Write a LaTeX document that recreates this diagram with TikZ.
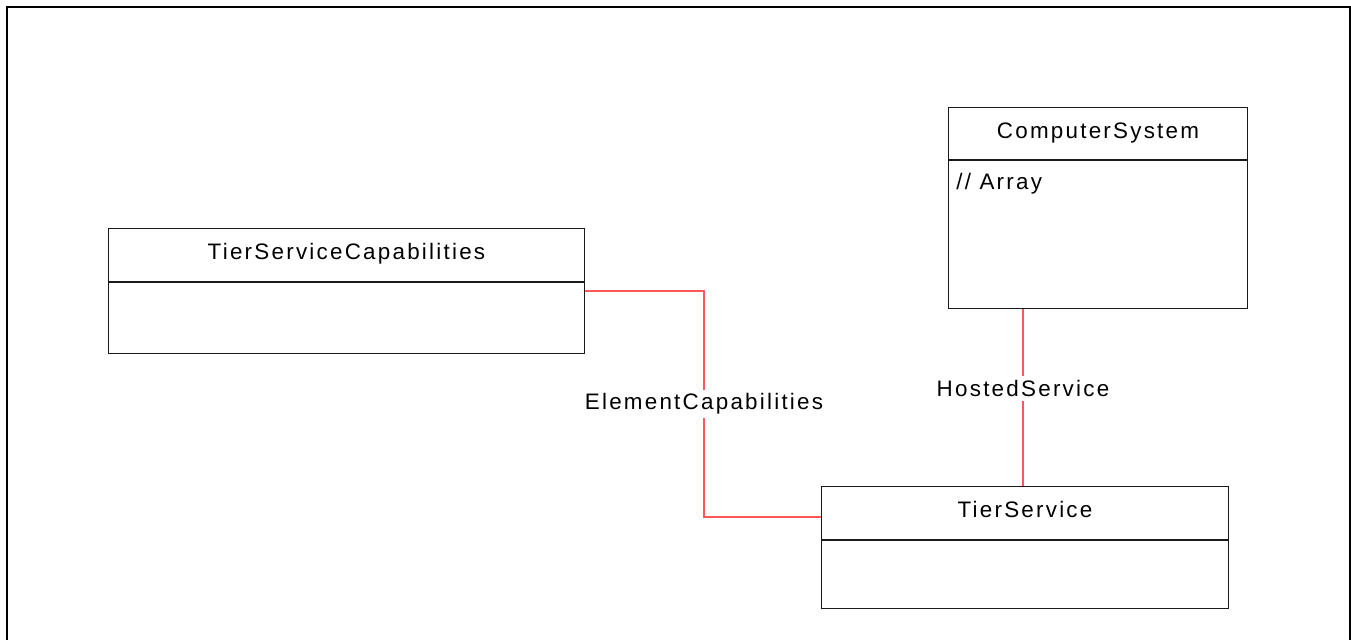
\documentclass[tikz,border=0pt]{standalone}
\usepackage{fontspec}
\setmainfont{Liberation Sans}[LetterSpace=10]
\usetikzlibrary{positioning}
\definecolor{cInk}{HTML}{1A1A1A}
\definecolor{cAssoc}{HTML}{FF5656}
\newcommand\umlsz{\fontsize{11.2}{13.4}\selectfont}
\tikzset{
  cls/.style  ={draw=cInk,line width=0.5pt,fill=white,inner sep=0pt,
                text height=8pt,text depth=3.4pt,font=\umlsz},
  clsb/.style ={draw=cInk,line width=0.5pt,fill=white,inner sep=0pt},
  assoc/.style={draw=cAssoc,line width=0.55pt},
  lbl/.style  ={fill=white,inner sep=2pt,font=\umlsz},
}
\begin{document}
\begin{tikzpicture}[x=0.5pt,y=-0.5pt]
\useasboundingbox (0,0) rectangle (1351,639);
% outer frame, bottom edge cut by the page
\coordinate (Fbl) at (6.7,650);
\coordinate (Fbr) at (1350,650);
\draw[line width=1pt] (Fbl) -- (6.7,6.7) -- (1350,6.7) -- (Fbr);
% classes
\node[cls,anchor=north west,minimum width=238pt,minimum height=26.5pt] (TSC) at (108,228) {TierServiceCapabilities};
\node[clsb,below=0pt of TSC,minimum width=238pt,minimum height=35.5pt] (TSCb) {};
\node[cls,anchor=north west,minimum width=149.5pt,minimum height=26pt] (CS) at (948,107) {ComputerSystem};
\node[clsb,below=0pt of CS,minimum width=149.5pt,minimum height=74pt] (CSb) {};
\node[font=\umlsz,inner sep=0pt,anchor=base west] (CSa) at ([xshift=4pt,yshift=-14.5pt]CSb.north west) {// Array};
\node[cls,anchor=north west,minimum width=203.5pt,minimum height=26.5pt] (TS) at (821,486) {TierService};
\node[clsb,below=0pt of TS,minimum width=203.5pt,minimum height=34pt] (TSb) {};
% associations
\draw[assoc] ([yshift=-4.5pt]TSCb.north east) -- ++(59.5pt,0)
  |- node[lbl,pos=0.25]{ElementCapabilities} ([yshift=-15.5pt]TS.north west);
\draw[assoc] ([xshift=-37.5pt]CSb.south) -- node[lbl,pos=0.45]{HostedService}
  ([xshift=-37.5pt]CSb.south |- TS.north);
\end{tikzpicture}
\end{document}
